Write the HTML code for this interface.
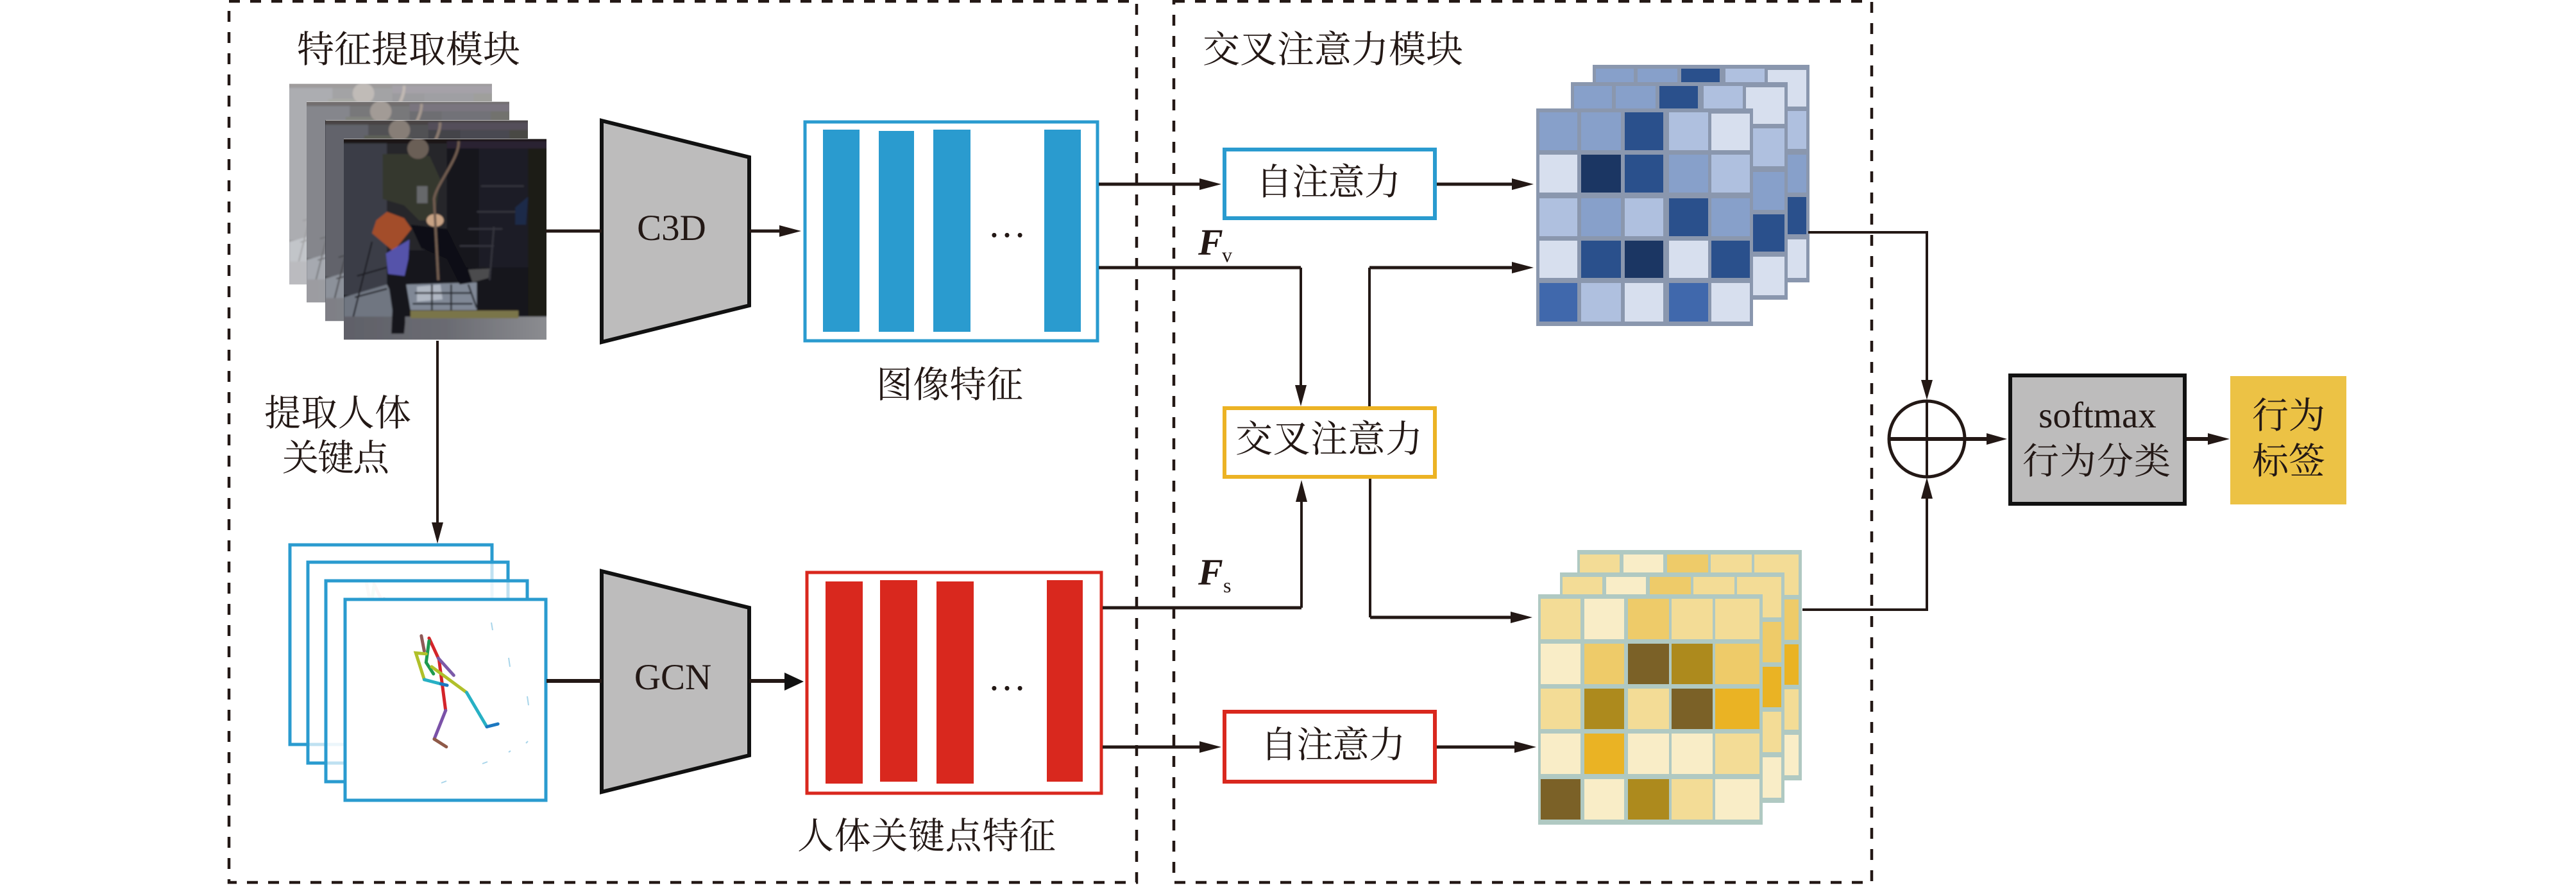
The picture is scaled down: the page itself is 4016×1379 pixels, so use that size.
<!DOCTYPE html>
<html><head><meta charset="utf-8"><style>
html,body{margin:0;padding:0;background:#fff;width:4016px;height:1379px;overflow:hidden}
svg{display:block}
.c{font-family:"Liberation Serif","Noto Serif CJK SC",serif;font-size:56px;fill:#231815}
.l{stroke:#231815;fill:none}
</style></head><body>
<svg xmlns="http://www.w3.org/2000/svg" width="4016" height="1379" viewBox="0 0 4016 1379">
<defs>
<filter id="bl" x="-5%" y="-5%" width="110%" height="110%"><feGaussianBlur stdDeviation="4"/></filter>
<clipPath id="pc"><rect x="18" y="20" width="948" height="938"/></clipPath>
<linearGradient id="fl" x1="0" x2="1" y1="0" y2="0"><stop offset="0" stop-color="#5f6068"/><stop offset=".5" stop-color="#6a6b72"/><stop offset="1" stop-color="#8d8e92"/></linearGradient>
<g id="photo" clip-path="url(#pc)">
<g filter="url(#bl)">
<rect x="0" y="0" width="990" height="990" fill="#14141a"/>
<rect x="0" y="30" width="220" height="720" fill="#3b3d47"/>
<rect x="220" y="40" width="280" height="500" fill="#25262b"/>
<rect x="650" y="60" width="230" height="560" fill="#1e1f26"/>
<rect x="880" y="60" width="90" height="790" fill="#1c1a14"/>
<rect x="0" y="20" width="970" height="20" fill="#1a1418"/>
<rect x="500" y="30" width="470" height="34" fill="#2c2430"/>
<polygon points="18,760 220,700 300,860 18,860" fill="#707681"/>
<polygon points="310,700 640,690 640,820 330,820" fill="#808896"/>
<polygon points="360,710 470,700 480,770 360,780" fill="#b0b7c2"/>
<path d="M340,790H620M350,740H610M430,700V820M520,700V820M600,700L640,810" stroke="#2c2e36" stroke-width="8" fill="none"/>
<path d="M60,860L150,500M80,660L220,620M70,760L220,720" stroke="#1d1e24" stroke-width="7" fill="none"/>
<path d="M560,520H720M600,440H760M640,360H830M660,240H860M720,430L700,680" stroke="#34353c" stroke-width="8" fill="none"/>
<rect x="0" y="850" width="990" height="120" fill="url(#fl)"/>
<polygon points="200,90 330,90 420,100 470,210 450,340 420,400 370,400 300,330 200,300" fill="#36372f"/>
<polygon points="330,420 500,440 590,620 700,640 690,680 560,700 500,580 380,530" fill="#101012"/>
<polygon points="600,630 700,625 695,670 620,690" fill="#4b4b4e"/>
<polygon points="220,360 300,390 335,440 250,545 150,460 170,400" fill="#a34e2b"/>
<polygon points="215,555 325,490 320,580 300,670 225,650" fill="#5552aa"/>
<polygon points="220,650 305,660 305,880 300,930 240,930 245,820" fill="#16171a"/>
<ellipse cx="445" cy="400" rx="40" ry="30" fill="#c7a284"/>
<ellipse cx="365" cy="65" rx="50" ry="48" fill="#6b5f56"/>
<rect x="360" y="240" width="50" height="80" fill="#66676a"/>
<path d="M555,30C560,110 450,230 440,300L460,680" stroke="#6f5b50" stroke-width="12" fill="none"/>
<rect x="330" y="822" width="505" height="36" fill="#7a7548"/>
<polygon points="820,340 880,290 870,420 820,420" fill="#1d2a48"/>
</g></g>
<g id="skel" fill="none" stroke-width="5" stroke-linecap="round">
<g transform="translate(340,680) scale(.574,.4458)">
<path vector-effect="non-scaling-stroke" d="M552,697L560,750" stroke="#8f5a58"/>
<path vector-effect="non-scaling-stroke" d="M573,705L600,780L618,958" stroke="#d4242a"/>
<path vector-effect="non-scaling-stroke" d="M598,775L640,835" stroke="#7b5aa8"/>
<path vector-effect="non-scaling-stroke" d="M573,715L565,790L585,830" stroke="#1e9a50"/>
<path vector-effect="non-scaling-stroke" d="M565,760L537,757L560,850M580,805L675,895" stroke="#b0c02a"/>
<path vector-effect="non-scaling-stroke" d="M560,850L605,865M675,895L730,1015" stroke="#27b0c4"/>
<path vector-effect="non-scaling-stroke" d="M605,865L622,870M730,1015L760,1005" stroke="#1c78c0"/>
<path vector-effect="non-scaling-stroke" d="M618,958L587,1058" stroke="#7b52a8"/>
<path vector-effect="non-scaling-stroke" d="M587,1058L620,1085" stroke="#8f5a48"/>
</g></g>
<g id="bs">
<rect x="2395" y="169" width="338" height="339" fill="#8a97ae"/>
<rect x="2400" y="175" width="59" height="59" fill="#87a0ca"/><rect x="2465" y="175" width="62" height="59" fill="#87a0ca"/><rect x="2533" y="175" width="60" height="59" fill="#2a508c"/><rect x="2602" y="175" width="61" height="59" fill="#afc0df"/><rect x="2668" y="177" width="60" height="57" fill="#d7dfee"/>
<rect x="2400" y="241" width="59" height="59" fill="#d7dfee"/><rect x="2465" y="241" width="62" height="59" fill="#1b3663"/><rect x="2533" y="241" width="60" height="59" fill="#2a508c"/><rect x="2602" y="241" width="61" height="59" fill="#87a0ca"/><rect x="2668" y="241" width="60" height="59" fill="#afc0df"/>
<rect x="2400" y="309" width="59" height="59" fill="#afc0df"/><rect x="2465" y="309" width="62" height="59" fill="#87a0ca"/><rect x="2533" y="309" width="60" height="59" fill="#afc0df"/><rect x="2602" y="309" width="61" height="59" fill="#2a508c"/><rect x="2668" y="309" width="60" height="59" fill="#87a0ca"/>
<rect x="2400" y="375" width="59" height="58" fill="#d7dfee"/><rect x="2465" y="375" width="62" height="58" fill="#2a508c"/><rect x="2533" y="375" width="60" height="58" fill="#1b3663"/><rect x="2602" y="375" width="61" height="58" fill="#d7dfee"/><rect x="2668" y="375" width="60" height="58" fill="#2a508c"/>
<rect x="2400" y="441" width="59" height="60" fill="#4068ac"/><rect x="2465" y="441" width="62" height="60" fill="#afc0df"/><rect x="2533" y="441" width="60" height="60" fill="#d7dfee"/><rect x="2602" y="441" width="61" height="60" fill="#4068ac"/><rect x="2668" y="441" width="60" height="60" fill="#d7dfee"/>
</g>
<g id="ys">
<rect x="2398" y="926" width="350" height="359" fill="#b0c9c2"/>
<rect x="2402" y="933" width="62" height="63" fill="#f3dc96"/><rect x="2470" y="933" width="62" height="63" fill="#f9edc7"/><rect x="2538" y="933" width="64" height="63" fill="#eecb69"/><rect x="2606" y="933" width="64" height="63" fill="#f3dc96"/><rect x="2674" y="933" width="69" height="63" fill="#f3dc96"/>
<rect x="2402" y="1003" width="62" height="63" fill="#f9edc7"/><rect x="2470" y="1003" width="62" height="63" fill="#eecb69"/><rect x="2538" y="1003" width="64" height="63" fill="#7b6127"/><rect x="2606" y="1003" width="64" height="63" fill="#ad8a1d"/><rect x="2674" y="1003" width="69" height="63" fill="#eecb69"/>
<rect x="2402" y="1073" width="62" height="63" fill="#f3dc96"/><rect x="2470" y="1073" width="62" height="63" fill="#ad8a1d"/><rect x="2538" y="1073" width="64" height="63" fill="#f3dc96"/><rect x="2606" y="1073" width="64" height="63" fill="#7b6127"/><rect x="2674" y="1073" width="69" height="63" fill="#eab324"/>
<rect x="2402" y="1143" width="62" height="63" fill="#f9edc7"/><rect x="2470" y="1143" width="62" height="63" fill="#eab324"/><rect x="2538" y="1143" width="64" height="63" fill="#f9edc7"/><rect x="2606" y="1143" width="64" height="63" fill="#f9edc7"/><rect x="2674" y="1143" width="69" height="63" fill="#f3dc96"/>
<rect x="2402" y="1214" width="62" height="63" fill="#7b6127"/><rect x="2470" y="1214" width="62" height="63" fill="#f9edc7"/><rect x="2538" y="1214" width="64" height="63" fill="#ad8a1d"/><rect x="2606" y="1214" width="64" height="63" fill="#f3dc96"/><rect x="2674" y="1214" width="69" height="63" fill="#f9edc7"/>
</g>
</defs>

<rect width="4016" height="1379" fill="#fff"/>

<!-- dashed module boxes -->
<rect x="357" y="2" width="1415" height="1373" fill="none" stroke="#231815" stroke-width="4.5" stroke-dasharray="17 16"/>
<rect x="1830" y="2" width="1088" height="1373" fill="none" stroke="#231815" stroke-width="4.5" stroke-dasharray="17 16"/>

<!-- photo stack -->
<g transform="translate(445,124) scale(.3333)" opacity=".42"><use href="#photo"/></g>
<g><rect x="478" y="158" width="316" height="314" fill="#fff"/><g transform="translate(472,152) scale(.3333)" opacity=".62"><use href="#photo"/></g></g>
<g><rect x="508" y="187" width="315" height="314" fill="#fff"/><g transform="translate(501,181) scale(.3333)" opacity=".8"><use href="#photo"/></g></g>
<g><rect x="536" y="216" width="316" height="314" fill="#fff"/><g transform="translate(530,210) scale(.3333)"><use href="#photo"/></g></g>

<!-- skeleton stack -->
<g>
<rect x="452" y="849" width="315" height="311" fill="#fff"/>
<g transform="translate(-86,-85)" opacity=".45"><use href="#skel"/></g>
<rect x="452" y="849" width="315" height="311" fill="none" stroke="#2a9bcf" stroke-width="5"/>
<rect x="480" y="876" width="312" height="313" fill="#fff" fill-opacity=".7"/>
<g transform="translate(-58,-58)" opacity=".45"><use href="#skel"/></g>
<rect x="480" y="876" width="312" height="313" fill="none" stroke="#2a9bcf" stroke-width="5"/>
<rect x="508" y="905" width="314" height="313" fill="#fff" fill-opacity=".7"/>
<g transform="translate(-30,-29)" opacity=".5"><use href="#skel"/></g>
<rect x="508" y="905" width="314" height="313" fill="none" stroke="#2a9bcf" stroke-width="5"/>
<rect x="538" y="934" width="313" height="313" fill="#fff" stroke="#2a9bcf" stroke-width="5"/>
<use href="#skel"/>
<path d="M766,970l2,12M793,1025l2,14M822,1085l2,14M820,1158l3,-3M793,1172l3,-2M752,1190l8,-3M688,1220l8,-3" stroke="#a8d5ea" stroke-width="2" fill="none"/>
</g>

<!-- trapezoids -->
<polygon points="938,188 1168,245 1168,476 938,533" fill="#bdbcbc" stroke="#111" stroke-width="6"/>
<polygon points="938,890 1168,947 1168,1177 938,1234" fill="#bdbcbc" stroke="#111" stroke-width="6"/>

<!-- image feature -->
<rect x="1255" y="190" width="456" height="341" fill="#fff" stroke="#2a9bcf" stroke-width="5"/>
<rect x="1283" y="202" width="57" height="315" fill="#2a9bcf"/>
<rect x="1370" y="204" width="55" height="313" fill="#2a9bcf"/>
<rect x="1455" y="202" width="58" height="315" fill="#2a9bcf"/>
<rect x="1628" y="202" width="57" height="315" fill="#2a9bcf"/>

<!-- body feature -->
<rect x="1258" y="892" width="459" height="344" fill="#fff" stroke="#d9281e" stroke-width="5"/>
<rect x="1287" y="906" width="58" height="315" fill="#d9281e"/>
<rect x="1372" y="904" width="58" height="314" fill="#d9281e"/>
<rect x="1460" y="906" width="58" height="315" fill="#d9281e"/>
<rect x="1632" y="904" width="56" height="314" fill="#d9281e"/>

<!-- attention boxes -->
<rect x="1909" y="233" width="328" height="107" fill="#fff" stroke="#2a9bcf" stroke-width="6"/>
<rect x="1909" y="636" width="328" height="107" fill="#fff" stroke="#ecb324" stroke-width="6"/>
<rect x="1909" y="1109" width="328" height="109" fill="#fff" stroke="#d9281e" stroke-width="6"/>

<!-- heat maps -->
<use href="#bs" x="88" y="-68"/><use href="#bs" x="54" y="-41"/><use href="#bs"/>
<use href="#ys" x="61" y="-69"/><use href="#ys" x="34" y="-34"/><use href="#ys"/>

<!-- softmax + label -->
<rect x="3134" y="585" width="272" height="200" fill="#bdbcbc" stroke="#111" stroke-width="6"/>
<rect x="3477" y="586" width="181" height="200" fill="#ecc245"/>

<!-- connectors -->
<g class="l">
<path stroke-width="5" d="M851,360H938M1168,360H1220"/>
<path stroke-width="4" d="M682,531V820"/>
<path stroke-width="6" d="M852,1061H938M1168,1061H1228"/>
<path stroke-width="5" d="M1713,287H1875M2240,287H2360"/>
<path stroke-width="5" d="M1713,417H2028"/>
<path stroke-width="4" d="M2028,417V605"/>
<path stroke-width="4" d="M2135,633V417"/>
<path stroke-width="5" d="M2135,417H2360"/>
<path stroke-width="4" d="M2136,746V962"/>
<path stroke-width="5" d="M2136,962H2360"/>
<path stroke-width="5" d="M1719,947H2029"/>
<path stroke-width="4" d="M2029,947V778"/>
<path stroke-width="5" d="M1719,1164H1875M2240,1164H2365"/>
<path stroke-width="4" d="M2819,362H3004V600"/>
<path stroke-width="4" d="M2810,950H3004V770"/>
<circle cx="3004" cy="684" r="59" stroke-width="5"/>
<path stroke-width="4" d="M3004,625V743"/>
<path stroke-width="6" d="M2945,684H3100"/>
<path stroke-width="6" d="M3409,684H3445"/>
</g>
<g fill="#231815">
<polygon points="1249,360 1215,351 1215,369"/>
<polygon points="682,847 673,814 691,814"/>
<polygon points="1253,1062 1223,1048 1223,1076" fill="#111"/>
<polygon points="1904,287 1870,278 1870,296"/>
<polygon points="1904,1164 1870,1155 1870,1173"/>
<polygon points="2028,633 2019,600 2037,600"/>
<polygon points="2029,748 2020,782 2038,782"/>
<polygon points="2391,287 2357,278 2357,296"/>
<polygon points="2391,417 2357,408 2357,426"/>
<polygon points="2389,962 2355,953 2355,971"/>
<polygon points="2395,1164 2361,1155 2361,1173"/>
<polygon points="3004,623 2995,592 3013,592"/>
<polygon points="3004,744 2995,777 3013,777"/>
<polygon points="3129,684 3097,675 3097,693"/>
<polygon points="3476,684 3442,675 3442,693"/>
</g>

<!-- labels -->
<text class="c" x="463" y="97" style="font-size:58px" textLength="348">特征提取模块</text>
<text class="c" x="1875" y="97" style="font-size:58px" textLength="406">交叉注意力模块</text>
<text class="c" x="412" y="663" style="font-size:57px" textLength="229">提取人体</text>
<text class="c" x="440" y="733" style="font-size:57px" textLength="167">关键点</text>
<text class="c" x="1047" y="374" text-anchor="middle" style="font-size:57px">C3D</text>
<text class="c" x="1049" y="1074" text-anchor="middle" style="font-size:57px">GCN</text>
<text class="c" x="1366" y="619" style="font-size:57px" textLength="229">图像特征</text>
<text class="c" x="1243" y="1322" style="font-size:57px" textLength="403">人体关键点特征</text>
<text class="c" x="1540" y="369" style="font-size:60px">…</text>
<text class="c" x="1540" y="1075" style="font-size:60px">…</text>
<text class="c" x="1958" y="303" style="font-size:57px" textLength="226">自注意力</text>
<text class="c" x="1926" y="704" style="font-size:58px" textLength="292">交叉注意力</text>
<text class="c" x="1965" y="1180" style="font-size:57px" textLength="226">自注意力</text>
<text class="c" x="1868" y="397" style="font-size:58px;font-weight:bold;font-style:italic">F</text>
<text class="c" x="1905" y="408" style="font-size:32px">v</text>
<text class="c" x="1868" y="911" style="font-size:58px;font-weight:bold;font-style:italic">F</text>
<text class="c" x="1907" y="923" style="font-size:32px">s</text>
<text class="c" x="3270" y="666" text-anchor="middle" style="font-size:57px">softmax</text>
<text class="c" x="3153" y="738" style="font-size:57px" textLength="231">行为分类</text>
<text class="c" x="3511" y="667" style="font-size:57px" textLength="114">行为</text>
<text class="c" x="3511" y="738" style="font-size:57px" textLength="114">标签</text>
</svg>
</body></html>
